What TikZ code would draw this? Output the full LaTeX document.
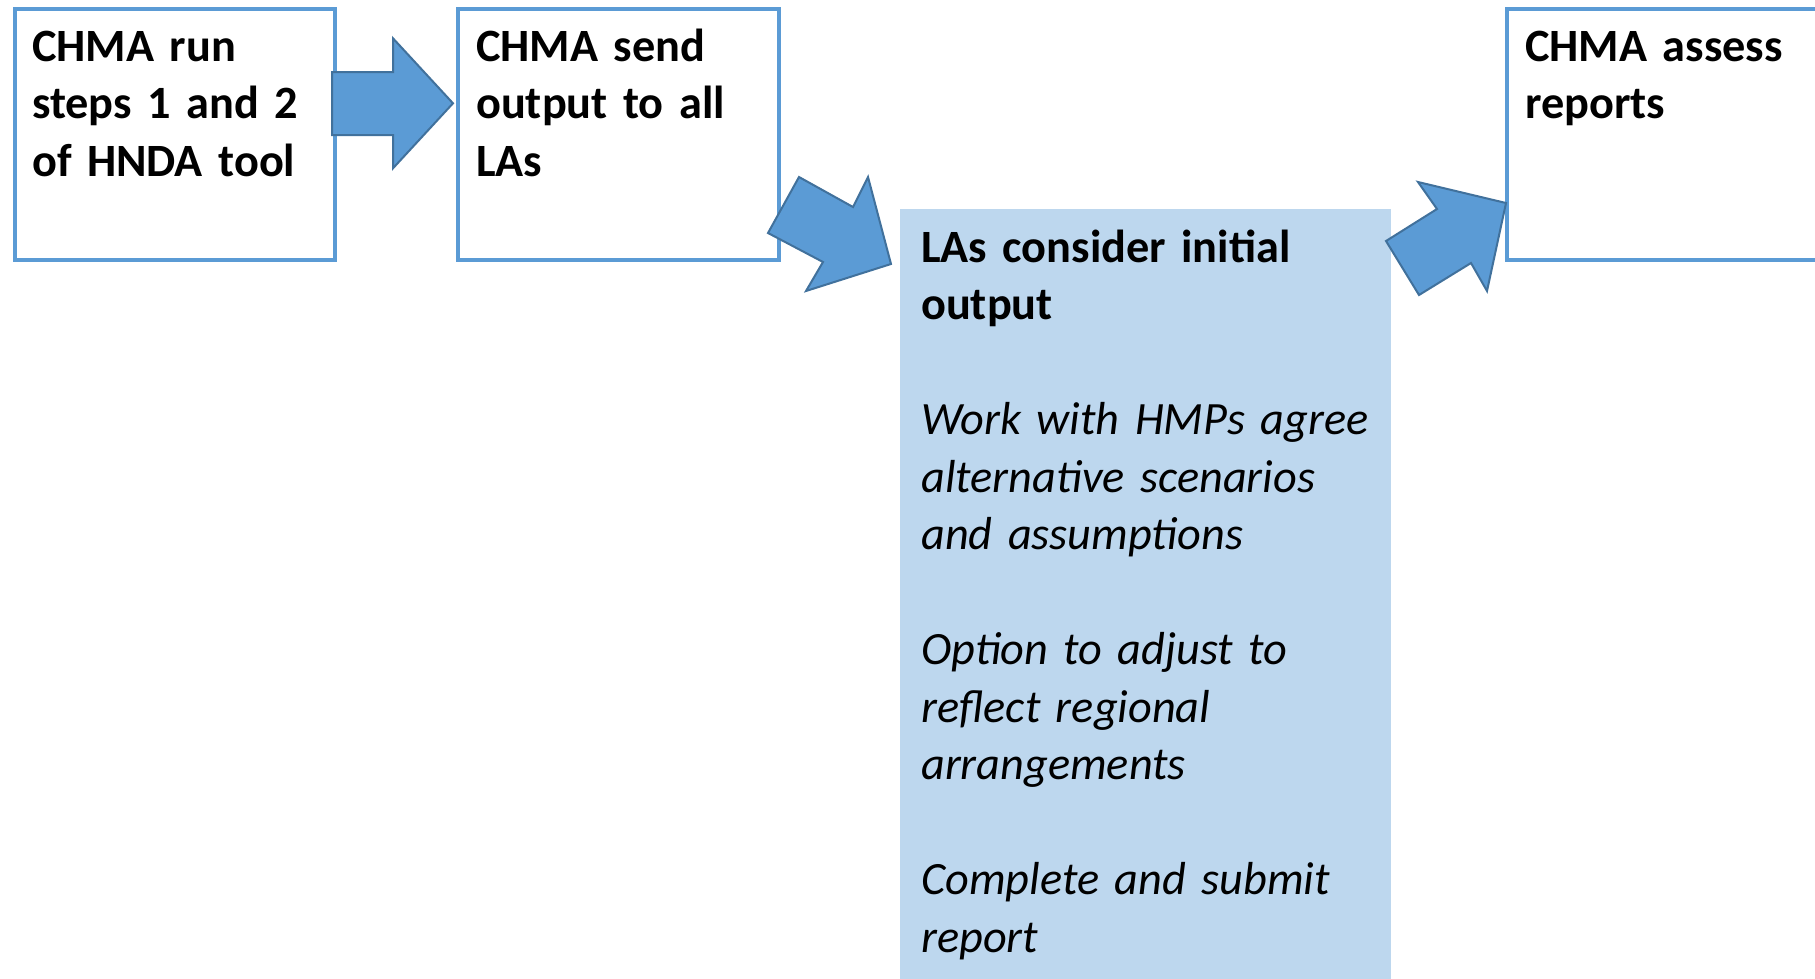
\documentclass[tikz,border=0pt]{standalone}
\usepackage{fontspec}
\setmainfont{Carlito}
\definecolor{boxblue}{HTML}{5B9BD5}
\definecolor{arrowline}{HTML}{41719C}
\definecolor{lightfill}{HTML}{BDD7EE}
\begin{document}
\begin{tikzpicture}[x=1pt,y=-1pt,
  outbox/.style={draw=boxblue, line width=4pt, fill=white, inner sep=0pt, anchor=north west, minimum height=251.2pt},
  softbox/.style={fill=lightfill, inner sep=0pt, anchor=north west},
  txt/.style={inner sep=0pt, anchor=base west, align=left, font=\fontsize{46.3pt}{57.5pt}\selectfont},
  blockarrow/.style={fill=boxblue, draw=arrowline, line width=2pt, line join=miter}]
\useasboundingbox (0,0) rectangle (1815,978);
\clip (0,0) rectangle (1815,978);
% boxes
\node[outbox, minimum width=320pt] (b1) at (12.8,6.8) {};
\node[outbox, minimum width=321pt] (b2) at (455.8,6.8) {};
\node[outbox, minimum width=321pt] (b4) at (1505.3,6.8) {};
\node[softbox, minimum width=491pt, minimum height=800pt] (lb) at (900,209) {};
% texts
\node[txt, text width=290pt] (t1) at (32,61) {\bfseries CHMA run\\steps 1 and 2\\of HNDA tool};
\node[txt, text width=290pt] (t2) at (476,61) {\bfseries CHMA send\\output to all\\LAs};
\node[txt, text width=290pt] (t4) at (1525,61) {\bfseries CHMA assess\\reports};
\node[txt, text width=465pt] (t3) at (921,262) {{\bfseries LAs consider initial\\output}\\[57.5pt]
  {\itshape Work with HMPs agree\\alternative scenarios\\and assumptions}\\[57.5pt]
  {\itshape Option to adjust to\\reflect regional\\arrangements}\\[57.5pt]
  {\itshape Complete and submit\\report}};
% block arrows
\draw[blockarrow] (332,72) -- (393,72) -- (393,38.3) -- (453,103.3) -- (393,168.3) -- (393,135) -- (332,135) -- cycle;
\draw[blockarrow] (799,177) -- (853,207) -- (868,177) -- (891,264) -- (806,291) -- (823,262) -- (768,233) -- cycle;
\draw[blockarrow] (1386,241) -- (1437,209) -- (1418,182) -- (1506,203) -- (1487,291) -- (1471,263) -- (1419,295) -- cycle;
\end{tikzpicture}
\end{document}
